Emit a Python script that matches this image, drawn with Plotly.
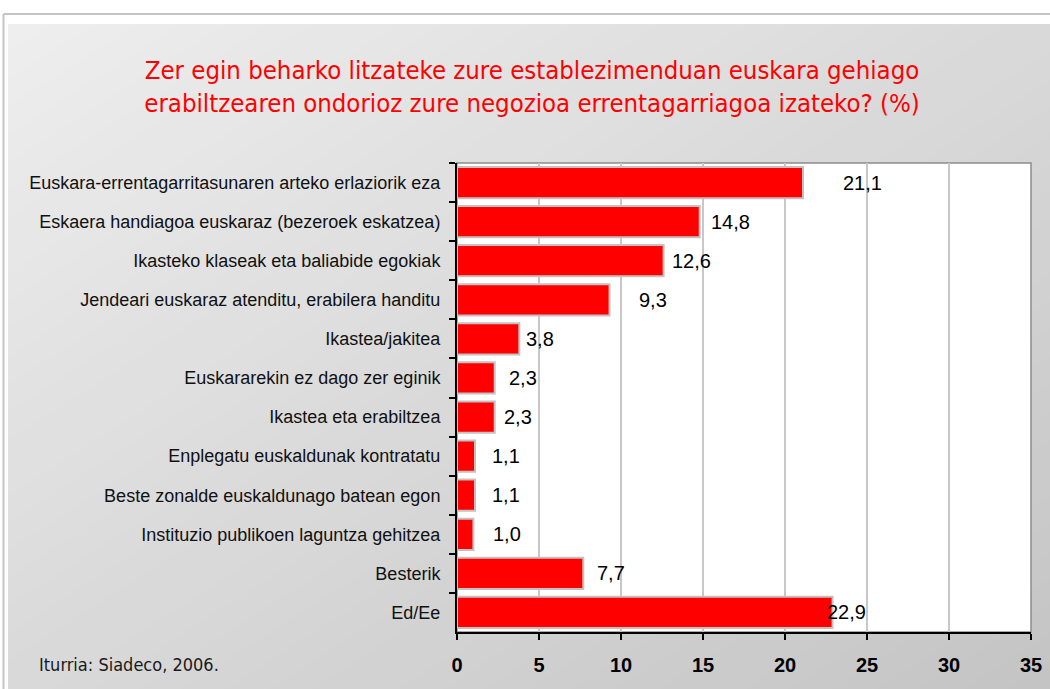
import plotly.graph_objects as go

# ---- data ----
categories = [
    "Euskara-errentagarritasunaren arteko erlaziorik eza",
    "Eskaera handiagoa euskaraz (bezeroek eskatzea)",
    "Ikasteko klaseak eta baliabide egokiak",
    "Jendeari euskaraz atenditu, erabilera handitu",
    "Ikastea/jakitea",
    "Euskararekin ez dago zer eginik",
    "Ikastea eta erabiltzea",
    "Enplegatu euskaldunak kontratatu",
    "Beste zonalde euskaldunago batean egon",
    "Instituzio publikoen laguntza gehitzea",
    "Besterik",
    "Ed/Ee",
]
values = [21.1, 14.8, 12.6, 9.3, 3.8, 2.3, 2.3, 1.1, 1.1, 1.0, 7.7, 22.9]
value_labels = ["21,1", "14,8", "12,6", "9,3", "3,8", "2,3", "2,3", "1,1", "1,1", "1,0", "7,7", "22,9"]
x_ticks = [0, 5, 10, 15, 20, 25, 30, 35]

title_text = ("Zer egin beharko litzateke zure establezimenduan euskara gehiago<br>"
              "erabiltzearen ondorioz zure negozioa errentagarriagoa izateko? (%)")
source_text = "Iturria: Siadeco, 2006."

# ---- style / layout helpers ----
label_shift = [40, 11, 8, 29, 7, 14, 9, 17, 17, 20, 14, -6]

W, H = 1050, 689
PL, PR, PT, PB = 457, 1031, 163, 632  # plot area in pixels


def px2paper(x, y):
    return (x - PL) / (PR - PL), (PB - y) / (PB - PT)


shapes = []
# gradient panel (diagonal, light top-left -> darker bottom-right)
X0, Y0, X1, Y1 = 8, 24, 1050, 689
N = 48
for k in range(N):
    c = 2.0 * k / N
    t = (c + 1.0 / N) / 2.0
    g = int(round(238 - 42 * t))
    col = f"rgb({g},{g},{g})"
    if c <= 1:
        pts = [(c, 0), (1, 0), (1, 1), (0, 1), (0, c)]
    else:
        pts = [(1, c - 1), (1, 1), (c - 1, 1)]
    coords = []
    for u, v in pts:
        xp, yp = px2paper(X0 + u * (X1 - X0), Y0 + v * (Y1 - Y0))
        coords.append(f"{xp:.5f},{yp:.5f}")
    path = "M " + " L ".join(coords) + " Z"
    shapes.append(dict(type="path", path=path, xref="paper", yref="paper",
                       fillcolor=col, line=dict(width=0), layer="below"))

# outer frame lines
fx0, fy0 = px2paper(3.5, 14)
fx1, fy1 = px2paper(1050, 689)
shapes.append(dict(type="line", xref="paper", yref="paper", x0=fx0, x1=fx1, y0=fy0, y1=fy0,
                   line=dict(color="#c4c4c4", width=2), layer="below"))
shapes.append(dict(type="line", xref="paper", yref="paper", x0=fx0, x1=fx0, y0=fy0, y1=fy1,
                   line=dict(color="#c4c4c4", width=2), layer="below"))
# plot area white with gray border
shapes.append(dict(type="rect", xref="paper", yref="paper", x0=0, x1=1, y0=0, y1=1,
                   fillcolor="white", line=dict(color="#8c8c8c", width=1.5), layer="below"))

fig = go.Figure()
fig.add_trace(go.Bar(
    y=categories, x=values, orientation="h",
    marker=dict(color="#ff0000", line=dict(color="#c2c2c2", width=2)),
    hoverinfo="skip", showlegend=False,
))

annotations = []
for cat, v, lab, sh in zip(categories, values, value_labels, label_shift):
    annotations.append(dict(x=v, y=cat, xref="x", yref="y", text=lab, showarrow=False,
                            xanchor="left", yanchor="middle", xshift=sh - 2,
                            font=dict(family="Liberation Sans, Arial", size=20, color="black")))

sx, sy = px2paper(37, 664)
annotations.append(dict(x=sx, y=sy, xref="paper", yref="paper", text=source_text,
                        showarrow=False, xanchor="left", yanchor="middle",
                        font=dict(family="DejaVu Sans Condensed, DejaVu Sans", size=18, color="#1a1a1a")))

fig.update_layout(
    width=W, height=H,
    margin=dict(l=PL, r=W - PR, t=PT, b=H - PB, pad=0, autoexpand=False),
    paper_bgcolor="white",
    plot_bgcolor="rgba(0,0,0,0)",
    title=dict(text=title_text, x=532 / W, xanchor="center", xref="container",
               y=1 - 79 / H, yanchor="middle", yref="container", automargin=False,
               font=dict(family="DejaVu Sans Condensed, DejaVu Sans", size=25.5, color="#ff0000")),
    bargap=0.2,
    shapes=shapes,
    annotations=annotations,
    xaxis=dict(range=[0, 35], tickvals=x_ticks, ticktext=[str(v) for v in x_ticks],
               automargin=False,
               showgrid=True, gridcolor="#c8c8c8", gridwidth=2, zeroline=False,
               showline=True, linecolor="black", linewidth=2,
               ticks="outside", ticklen=6, tickwidth=2, tickcolor="black",
               ticklabelstandoff=8,
               tickfont=dict(family="Liberation Sans, Arial", size=20, color="black", weight="bold")),
    yaxis=dict(type="category", autorange="reversed", showgrid=False, zeroline=False,
               automargin=False,
               showline=True, linecolor="black", linewidth=2,
               ticks="outside", tickson="boundaries", ticklen=6, tickwidth=2, tickcolor="black",
               ticklabelstandoff=11,
               tickfont=dict(family="Liberation Sans, Arial", size=18, color="#111111")),
)

fig.write_html("out.html", config={"displayModeBar": False},
               post_script="document.body.style.margin='0';document.body.style.overflow='hidden';")
